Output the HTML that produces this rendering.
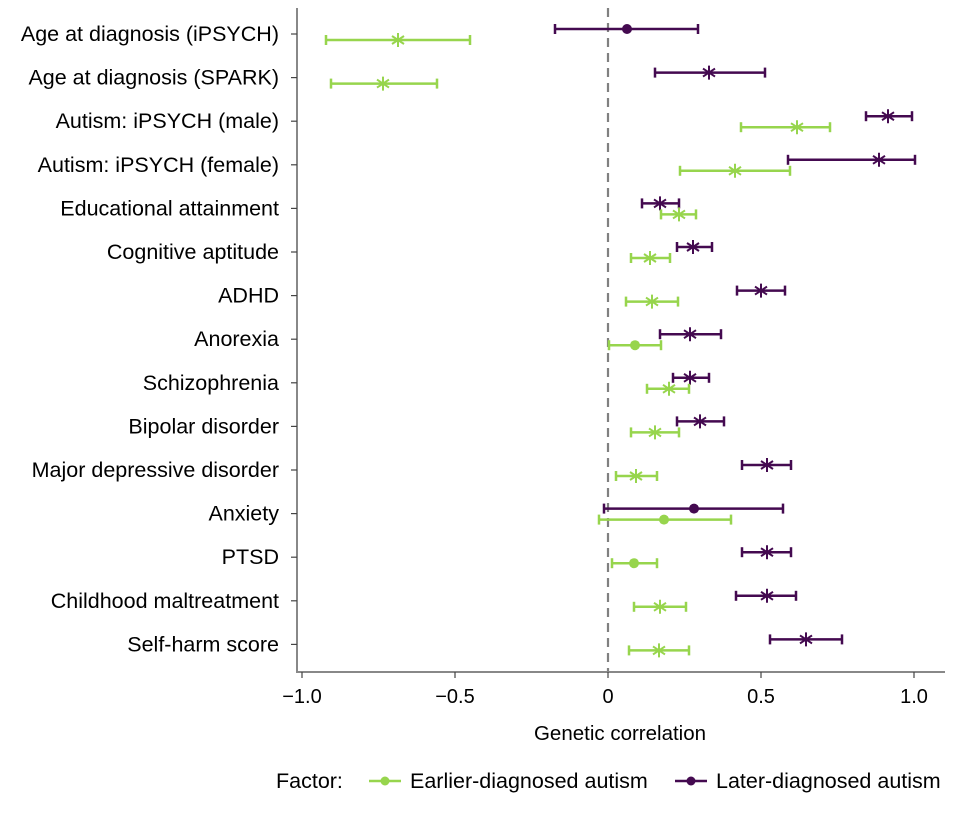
<!DOCTYPE html>
<html><head><meta charset="utf-8"><style>body{margin:0;background:#fff}svg{display:block}text{font-family:"Liberation Sans",Arial,sans-serif;fill:#000}</style></head>
<body>
<svg width="977" height="813" viewBox="0 0 977 813" xmlns="http://www.w3.org/2000/svg">
<defs>
<g id="sg"><path d="M0,-7V7M-6,-4L6,4M-6,4L6,-4" stroke="#97d54d" stroke-width="2"/></g>
<g id="sp"><path d="M0,-7V7M-6,-4L6,4M-6,4L6,-4" stroke="#440a50" stroke-width="2"/></g>
</defs>
<line x1="608" y1="8" x2="608" y2="672" stroke="#808080" stroke-width="2.2" stroke-dasharray="9,6"/>
<line x1="297" y1="8" x2="297" y2="673" stroke="#888" stroke-width="2"/>
<line x1="296" y1="672" x2="945" y2="672" stroke="#888" stroke-width="2"/>
<g stroke="#444" stroke-width="1.2">
<line x1="302" y1="672" x2="302" y2="678"/><line x1="455" y1="672" x2="455" y2="678"/><line x1="608" y1="672" x2="608" y2="678"/><line x1="761" y1="672" x2="761" y2="678"/><line x1="914" y1="672" x2="914" y2="678"/>
</g>
<g font-size="20" text-anchor="middle">
<text x="302" y="703">−1.0</text><text x="455" y="703">−0.5</text><text x="608" y="703">0</text><text x="761" y="703">0.5</text><text x="914" y="703">1.0</text>
<text x="620" y="740" font-size="20.5">Genetic correlation</text>
</g>
<g font-size="21.5" text-anchor="end" id="labels"></g>
<g id="data"></g>
<g font-size="21.5">
<text x="276" y="788">Factor:</text>
<line x1="369" y1="781" x2="401" y2="781" stroke="#97d54d" stroke-width="2.5"/><circle cx="385" cy="781" r="4.5" fill="#97d54d"/>
<text x="410" y="788">Earlier-diagnosed autism</text>
<line x1="675" y1="781" x2="707" y2="781" stroke="#440a50" stroke-width="2.5"/><circle cx="691" cy="781" r="4.5" fill="#440a50"/>
<text x="716" y="788">Later-diagnosed autism</text>
</g>
</svg>
<script>
var L=["Age at diagnosis (iPSYCH)","Age at diagnosis (SPARK)","Autism: iPSYCH (male)","Autism: iPSYCH (female)","Educational attainment","Cognitive aptitude","ADHD","Anorexia","Schizophrenia","Bipolar disorder","Major depressive disorder","Anxiety","PTSD","Childhood maltreatment","Self-harm score"];
var P=[[555,627,698,1],[655,709,765,0],[866,888,912,0],[788,879,915,0],[642,660,679,0],[677,693,712,0],[737,761,785,0],[660,690,721,0],[673,690,709,0],[677,700,724,0],[742,767,791,0],[604,694,783,1],[742,767,791,0],[736,767,796,0],[770,806,842,0]];
var G=[[326,398,470,0],[331,383,437,0],[741,797,830,0],[680,735,790,0],[661,679,696,0],[631,650,670,0],[626,652,678,0],[609,635,661,1],[647,669,689,0],[631,655,679,0],[616,636,657,0],[599,664,731,1],[612,634,657,1],[634,660,686,0],[629,659,689,0]];
var s="",l="";
function bar(d,y,c,id){var r='<line x1="'+d[0]+'" y1="'+y+'" x2="'+d[2]+'" y2="'+y+'" stroke="'+c+'" stroke-width="2.5"/>'+
'<line x1="'+d[0]+'" y1="'+(y-5)+'" x2="'+d[0]+'" y2="'+(y+5)+'" stroke="'+c+'" stroke-width="2.5"/>'+
'<line x1="'+d[2]+'" y1="'+(y-5)+'" x2="'+d[2]+'" y2="'+(y+5)+'" stroke="'+c+'" stroke-width="2.5"/>';
r+=d[3]?'<circle cx="'+d[1]+'" cy="'+y+'" r="5" fill="'+c+'"/>':'<use href="#'+id+'" x="'+d[1]+'" y="'+y+'"/>';return r;}
for(var i=0;i<15;i++){var y=34+43.6*i;
l+='<text x="279" y="'+(y+7)+'">'+L[i]+'</text><line x1="291" y1="'+y+'" x2="297" y2="'+y+'" stroke="#444" stroke-width="1.2"/>';
s+=bar(P[i],y-5,"#440a50","sp")+bar(G[i],y+6,"#97d54d","sg");}
document.getElementById("labels").innerHTML=l;document.getElementById("data").innerHTML=s;
</script>
</body></html>
